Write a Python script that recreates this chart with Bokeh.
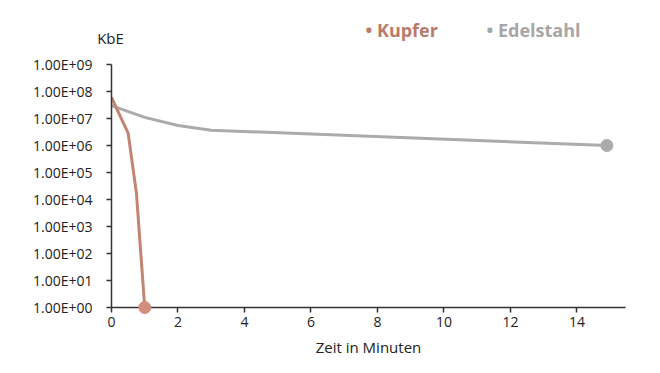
from bokeh.plotting import figure
from bokeh.layouts import column
from bokeh.models import FixedTicker, Range1d
from bokeh.core.properties import value
from bokeh.embed import file_html
from bokeh.resources import INLINE

series_names = ["Kupfer", "Edelstahl"]
kupfer_x = [0, 0.5, 0.75, 1.0]
kupfer_y = [6.0e7, 2.9e6, 1.7e4, 1.0]
edel_x = [0, 1, 2, 3, 14.9]
edel_y = [3.0e7, 1.1e7, 5.5e6, 3.7e6, 1.0e6]
x_ticks = [0, 2, 4, 6, 8, 10, 12, 14]
y_ticks = [1, 10, 100, 1000, 10**4, 10**5, 10**6, 10**7, 10**8, 10**9]
y_tick_labels = ["1.00E+00", "1.00E+01", "1.00E+02", "1.00E+03", "1.00E+04",
                 "1.00E+05", "1.00E+06", "1.00E+07", "1.00E+08", "1.00E+09"]
y_unit = "KbE"
x_title = "Zeit in Minuten"

FONT = "Open Sans"
KUPFER_LINE = "#C38573"
KUPFER_MARK = "#D28F7D"
KUPFER_TEXT = "#B97A69"
EDEL_LINE = "#ABABAB"
EDEL_MARK = "#ABABAB"
EDEL_TEXT = "#A6A6A6"

W, H = 660, 373
TOP_H = 50                      # header strip with unit label and legend
FL, FR, FT, FB = 111, 625, 64, 307  # frame edges in page pixels

# ---- header strip (unit label + legend); its frame is aligned with the chart's
# frame by the column layout, so x data = page pixels between FL and FR
head = figure(width=W, height=TOP_H, output_backend="svg", toolbar_location=None,
              x_range=Range1d(FL, FR), y_range=Range1d(TOP_H, 0),
              min_border=0, x_axis_type=None, y_axis_type=None)
head.outline_line_color = None
head.grid.visible = False
head.text(x=[110], y=[37], text=[y_unit], text_font=value(FONT), text_font_size="15px",
          text_color="#222222", text_align="center", text_baseline="middle", level="overlay")
head.text(x=[365, 486], y=[29, 29], text=["• " + n for n in series_names],
          text_font=value(FONT), text_font_size="18px", text_font_style="bold",
          text_color=[KUPFER_TEXT, EDEL_TEXT], text_baseline="middle")

# ---- main chart
p = figure(width=W, height=H - TOP_H, output_backend="svg", toolbar_location=None,
           y_axis_type="log", x_range=Range1d(0, 15.46), y_range=Range1d(1, 1e9),
           min_border_left=FL, min_border_right=W - FR, min_border_top=FT - TOP_H,
           min_border_bottom=H - FB)
p.outline_line_color = None
p.grid.visible = False
p.background_fill_color = "white"

p.line(edel_x, edel_y, line_color=EDEL_LINE, line_width=3)
p.line(kupfer_x, kupfer_y, line_color=KUPFER_LINE, line_width=3)
p.scatter([edel_x[-1]], [edel_y[-1]], size=12, fill_color=EDEL_MARK, line_color=EDEL_MARK, level="overlay")
p.scatter([kupfer_x[-1]], [kupfer_y[-1]], size=12, fill_color=KUPFER_MARK, line_color=KUPFER_MARK, level="overlay")

xax = p.xaxis[0]
yax = p.yaxis[0]
xax.ticker = FixedTicker(ticks=x_ticks)
yax.ticker = FixedTicker(ticks=y_ticks)
yax.major_label_overrides = {t: l for t, l in zip(y_ticks, y_tick_labels)}
for ax in (xax, yax):
    ax.minor_tick_line_color = None
    ax.axis_line_color = "#333333"
    ax.axis_line_width = 1.5
    ax.major_tick_line_color = "#333333"
    ax.major_tick_line_width = 1.5
    ax.major_tick_out = 5
    ax.major_tick_in = 0
    ax.major_label_text_font = FONT
    ax.major_label_text_font_size = "14px"
    ax.major_label_text_color = "#222222"
yax.major_label_standoff = 14
xax.major_label_standoff = 4

xax.axis_label = x_title
xax.axis_label_text_font = FONT
xax.axis_label_text_font_size = "15px"
xax.axis_label_text_font_style = "normal"
xax.axis_label_text_color = "#222222"
xax.axis_label_standoff = 7

layout = column(head, p, spacing=0)
open("out.html", "w").write(file_html(layout, INLINE))
